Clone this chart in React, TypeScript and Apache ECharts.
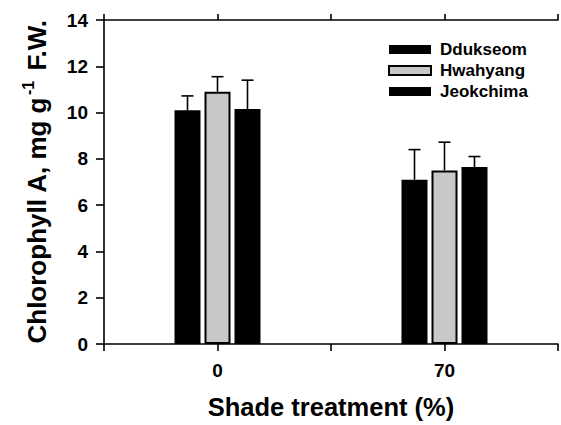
import React, { useEffect, useRef } from 'react';
import * as echarts from 'echarts';

const categories = ['0', '70'];
const seriesNames = ['Ddukseom', 'Hwahyang', 'Jeokchima'];
const ddukseom = [10.1, 7.1];
const hwahyang = [10.9, 7.5];
const jeokchima = [10.15, 7.65];
const ddukseomErr = [0.62, 1.3];
const hwahyangErr = [0.65, 1.22];
const jeokchimaErr = [1.25, 0.45];

const FONT = '"Liberation Sans", Arial, sans-serif';
const BAR_W = 26;
const BAR_GAP = 4;

const values = [ddukseom, hwahyang, jeokchima];
const errors = [ddukseomErr, hwahyangErr, jeokchimaErr];
const fills = ['#000000', '#c8c8c8', '#000000'];

export default function App() {
  const ref = useRef<HTMLDivElement>(null);
  useEffect(() => {
    if (!ref.current) return;
    const chart = echarts.init(ref.current, null, { renderer: 'svg' });
    const barSeries = seriesNames.map((name, si) => ({
      name,
      type: 'bar',
      xAxisIndex: 0,
      yAxisIndex: 0,
      barWidth: BAR_W,
      barGap: `${(BAR_GAP / BAR_W) * 100}%`,
      data: values[si].map((v, i) => [i + 1, v]),
      itemStyle: {
        color: fills[si],
        borderColor: '#000',
        borderWidth: si === 1 ? 2 : 0,
      },
      z: 2,
    }));
    const errSeries = seriesNames.map((name, si) => {
      const offset = (si - 1) * (BAR_W + BAR_GAP);
      return {
        name: name + ' err',
        type: 'custom',
        xAxisIndex: 0,
        yAxisIndex: 0,
        z: 3,
        encode: { x: 0, y: 1 },
        data: values[si].map((v, i) => [i + 1, v, errors[si][i]]),
        renderItem: (params: any, api: any) => {
          const x = api.value(0);
          const y = api.value(1);
          const e = api.value(2);
          const base = api.coord([x, y]);
          const top = api.coord([x, y + e]);
          const cx = base[0] + offset;
          return {
            type: 'group',
            children: [
              { type: 'line', shape: { x1: cx, y1: base[1], x2: cx, y2: top[1] }, style: { stroke: '#000', lineWidth: 1.6 } },
              { type: 'line', shape: { x1: cx - 6, y1: top[1], x2: cx + 6, y2: top[1] }, style: { stroke: '#000', lineWidth: 1.6 } },
            ],
          };
        },
      };
    });
    chart.setOption({
      animation: false,
      backgroundColor: '#ffffff',
      grid: { left: 104, right: -7, top: 20, bottom: 81, containLabel: false },
      legend: {
        data: seriesNames,
        orient: 'vertical',
        left: 383,
        top: 36,
        itemWidth: 42,
        itemHeight: 9,
        itemGap: 4,
        icon: 'rect',
        textStyle: { fontFamily: FONT, fontWeight: 'bold', fontSize: 17, color: '#000', padding: [0, 0, 0, 4] },
      },
      xAxis: [
        {
          type: 'value',
          min: 0.5,
          max: 2.5,
          interval: 0.5,
          position: 'bottom',
          name: 'Shade treatment (%)',
          nameLocation: 'middle',
          nameGap: 50,
          nameTextStyle: { fontFamily: FONT, fontWeight: 'bold', fontSize: 25.5, color: '#000' },
          axisLine: { show: true, lineStyle: { color: '#000', width: 1.6 } },
          axisTick: { show: true, inside: false, length: 7, lineStyle: { color: '#000', width: 1.6 } },
          axisLabel: {
            fontFamily: FONT,
            fontWeight: 'bold',
            fontSize: 19,
            color: '#000',
            margin: 17,
            formatter: (v: number) => {
              const idx = Math.round(v) - 1;
              return Math.abs(v - Math.round(v)) < 1e-6 && idx >= 0 && idx < categories.length ? categories[idx] : '';
            },
          },
          splitLine: { show: false },
        },
        {
          type: 'value',
          min: 0.5,
          max: 2.5,
          interval: 0.5,
          position: 'top',
          axisLine: { show: true, lineStyle: { color: '#000', width: 1.6 } },
          axisTick: { show: true, inside: false, length: 6, lineStyle: { color: '#000', width: 1.6 } },
          axisLabel: { show: false },
          splitLine: { show: false },
        },
      ],
      yAxis: {
        type: 'value',
        min: 0,
        max: 14,
        interval: 2,
        name: '{a|Chlorophyll A, mg g}{s|-1}{a| F.W.}',
        nameLocation: 'middle',
        nameGap: 54,
        nameRotate: 90,
        nameTextStyle: {
          fontFamily: FONT,
          fontWeight: 'bold',
          color: '#000',
          rich: {
            a: { fontFamily: FONT, fontWeight: 'bold', fontSize: 26, color: '#000', lineHeight: 30, verticalAlign: 'bottom' },
            s: { fontFamily: FONT, fontWeight: 'bold', fontSize: 16, color: '#000', lineHeight: 30, verticalAlign: 'top', padding: [0, 3, 13, 2] },
          },
        },
        axisLine: { show: true, lineStyle: { color: '#000', width: 1.6 } },
        axisTick: { show: true, inside: false, length: 8, lineStyle: { color: '#000', width: 1.6 } },
        axisLabel: { fontFamily: FONT, fontWeight: 'bold', fontSize: 19, color: '#000', margin: 16 },
        splitLine: { show: false },
      },
      series: [...barSeries, ...errSeries],
    });
    return () => chart.dispose();
  }, []);
  return (
    <div
      ref={ref}
      style={{ position: 'absolute', left: 0, top: 0, width: 561, height: 425, background: '#fff' }}
    />
  );
}
